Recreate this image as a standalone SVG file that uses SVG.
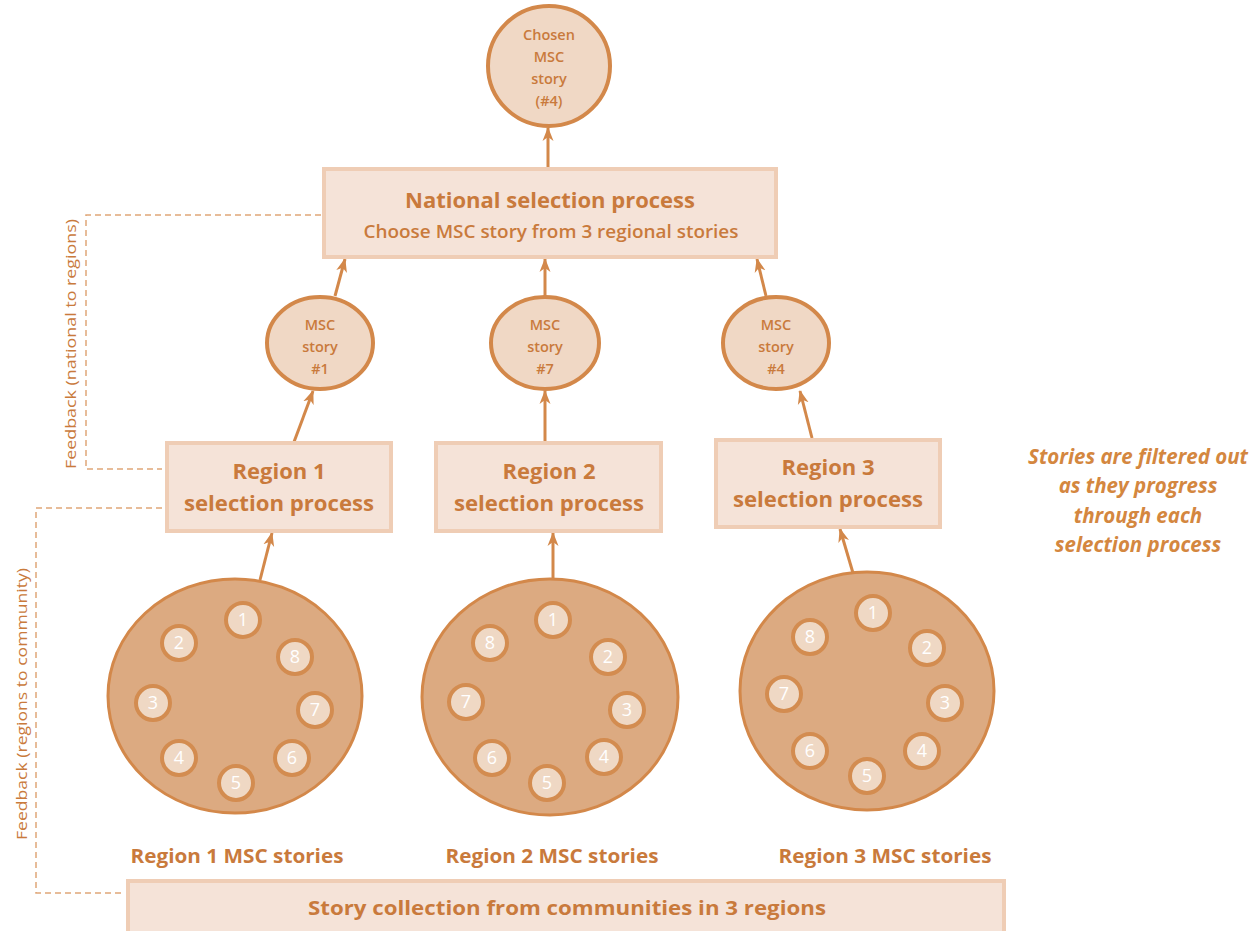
<svg xmlns="http://www.w3.org/2000/svg" width="1258" height="931" viewBox="0 0 1258 931">
<defs>
<marker id="ah" markerWidth="14" markerHeight="12" refX="13" refY="6" orient="auto" markerUnits="userSpaceOnUse">
<path d="M0,0.5 L14,6 L0,11.5 L4,6 Z" fill="#d3884a"/>
</marker>
<style>
text{font-family:"Open Sans","Liberation Sans",Arial,sans-serif;fill:#c97a3c;text-anchor:middle}
.box{fill:#f5e3d8;stroke:#efcdb5;stroke-width:4}
.msc{fill:#f0d8c5;stroke:#d3884a;stroke-width:4}
.big{fill:#dcaa81;stroke:#d3884a;stroke-width:3}
.sm{fill:#efd8c4;stroke:#d38c50;stroke-width:4}
.num{fill:#ffffff;font-size:18px}
.arr{stroke:#d3884a;stroke-width:3;fill:none;marker-end:url(#ah)}
.dash{stroke:#e0a678;stroke-width:1.5;fill:none;stroke-dasharray:6 4}
.mt{font-size:14.5px;font-weight:600}
.bt{font-weight:bold;font-size:22px}
.lbl{font-weight:bold;font-size:19px}
.side{font-size:14px}
.it{font-style:italic;font-weight:bold;font-size:20.5px;fill:#d4873f}
</style>
</defs>

<g id="connectors">
<line class="arr" x1="548" y1="168" x2="548" y2="128"/>
<line class="arr" x1="335" y1="296" x2="345" y2="259"/>
<line class="arr" x1="545" y1="296" x2="545" y2="259"/>
<line class="arr" x1="766" y1="296" x2="757" y2="259"/>
<line class="arr" x1="294" y1="442" x2="313" y2="391"/>
<line class="arr" x1="545" y1="442" x2="545" y2="391"/>
<line class="arr" x1="812" y1="438" x2="800" y2="391"/>
<line class="arr" x1="260" y1="580" x2="272" y2="533"/>
<line class="arr" x1="553" y1="578" x2="553" y2="533"/>
<line class="arr" x1="853" y1="573" x2="840" y2="529"/>
<path class="dash" d="M321,215 H86 V469 H162"/>
<path class="dash" d="M162,508 H36 V893 H125"/>
</g>

<g id="chosen">
<ellipse class="msc" cx="549" cy="66" rx="61" ry="60"/>
<text class="mt" x="549" y="40">Chosen</text>
<text class="mt" x="549" y="62">MSC</text>
<text class="mt" x="549" y="84">story</text>
<text class="mt" x="549" y="106">(#4)</text>
</g>

<g id="national">
<rect class="box" x="324" y="169" width="452" height="88"/>
<text class="bt" x="550" y="208" textLength="290" lengthAdjust="spacingAndGlyphs">National selection process</text>
<text x="551" y="238" style="font-size:18px;font-weight:600" textLength="375" lengthAdjust="spacingAndGlyphs">Choose MSC story from 3 regional stories</text>
</g>

<g id="msc1">
<ellipse class="msc" cx="320" cy="343" rx="53" ry="46"/>
<text class="mt" x="320" y="330">MSC</text>
<text class="mt" x="320" y="352">story</text>
<text class="mt" x="320" y="374">#1</text>
</g>
<g id="msc7">
<ellipse class="msc" cx="545" cy="343" rx="54" ry="46"/>
<text class="mt" x="545" y="330">MSC</text>
<text class="mt" x="545" y="352">story</text>
<text class="mt" x="545" y="374">#7</text>
</g>
<g id="msc4">
<ellipse class="msc" cx="776" cy="343" rx="53" ry="46"/>
<text class="mt" x="776" y="330">MSC</text>
<text class="mt" x="776" y="352">story</text>
<text class="mt" x="776" y="374">#4</text>
</g>

<g id="region1">
<rect class="box" x="167" y="443" width="224" height="88"/>
<text class="bt" x="279" y="479">Region 1</text>
<text class="bt" x="279" y="511" textLength="190" lengthAdjust="spacingAndGlyphs">selection process</text>
</g>
<g id="region2">
<rect class="box" x="436" y="443" width="225" height="88"/>
<text class="bt" x="549" y="479">Region 2</text>
<text class="bt" x="549" y="511" textLength="190" lengthAdjust="spacingAndGlyphs">selection process</text>
</g>
<g id="region3">
<rect class="box" x="716" y="440" width="224" height="87"/>
<text class="bt" x="828" y="475">Region 3</text>
<text class="bt" x="828" y="507" textLength="190" lengthAdjust="spacingAndGlyphs">selection process</text>
</g>

<g id="stories1">
<ellipse class="big" cx="235" cy="696" rx="127" ry="117"/>
<circle class="sm" cx="243" cy="620" r="17"/><text class="num" x="243" y="626">1</text>
<circle class="sm" cx="179" cy="643" r="17"/><text class="num" x="179" y="649">2</text>
<circle class="sm" cx="153" cy="703" r="17"/><text class="num" x="153" y="709">3</text>
<circle class="sm" cx="179" cy="758" r="17"/><text class="num" x="179" y="764">4</text>
<circle class="sm" cx="236" cy="783" r="17"/><text class="num" x="236" y="789">5</text>
<circle class="sm" cx="292" cy="758" r="17"/><text class="num" x="292" y="764">6</text>
<circle class="sm" cx="315" cy="710" r="17"/><text class="num" x="315" y="716">7</text>
<circle class="sm" cx="295" cy="657" r="17"/><text class="num" x="295" y="663">8</text>
<text class="lbl" x="237" y="863" textLength="213" lengthAdjust="spacingAndGlyphs">Region 1 MSC stories</text>
</g>

<g id="stories2">
<ellipse class="big" cx="550" cy="697" rx="128" ry="118"/>
<circle class="sm" cx="553" cy="620" r="17"/><text class="num" x="553" y="626">1</text>
<circle class="sm" cx="608" cy="657" r="17"/><text class="num" x="608" y="663">2</text>
<circle class="sm" cx="627" cy="710" r="17"/><text class="num" x="627" y="716">3</text>
<circle class="sm" cx="604" cy="757" r="17"/><text class="num" x="604" y="763">4</text>
<circle class="sm" cx="547" cy="783" r="17"/><text class="num" x="547" y="789">5</text>
<circle class="sm" cx="492" cy="758" r="17"/><text class="num" x="492" y="764">6</text>
<circle class="sm" cx="466" cy="702" r="17"/><text class="num" x="466" y="708">7</text>
<circle class="sm" cx="490" cy="643" r="17"/><text class="num" x="490" y="649">8</text>
<text class="lbl" x="552" y="863" textLength="213" lengthAdjust="spacingAndGlyphs">Region 2 MSC stories</text>
</g>

<g id="stories3">
<ellipse class="big" cx="867" cy="691" rx="127" ry="119"/>
<circle class="sm" cx="873" cy="613" r="17"/><text class="num" x="873" y="619">1</text>
<circle class="sm" cx="927" cy="648" r="17"/><text class="num" x="927" y="654">2</text>
<circle class="sm" cx="945" cy="703" r="17"/><text class="num" x="945" y="709">3</text>
<circle class="sm" cx="922" cy="751" r="17"/><text class="num" x="922" y="757">4</text>
<circle class="sm" cx="867" cy="776" r="17"/><text class="num" x="867" y="782">5</text>
<circle class="sm" cx="810" cy="751" r="17"/><text class="num" x="810" y="757">6</text>
<circle class="sm" cx="784" cy="694" r="17"/><text class="num" x="784" y="700">7</text>
<circle class="sm" cx="810" cy="637" r="17"/><text class="num" x="810" y="643">8</text>
<text class="lbl" x="885" y="863" textLength="213" lengthAdjust="spacingAndGlyphs">Region 3 MSC stories</text>
</g>

<g id="collection">
<rect class="box" x="128" y="881" width="876" height="56"/>
<text class="lbl" x="567" y="915" style="font-size:20px" textLength="518" lengthAdjust="spacingAndGlyphs">Story collection from communities in 3 regions</text>
</g>

<g id="feedback-labels">
<text class="side" transform="translate(76,344) rotate(-90)" textLength="250" lengthAdjust="spacingAndGlyphs">Feedback (national to regions)</text>
<text class="side" transform="translate(27,704) rotate(-90)" textLength="272" lengthAdjust="spacingAndGlyphs">Feedback (regions to community)</text>
</g>

<g id="note">
<text class="it" x="1138" y="464">Stories are filtered out</text>
<text class="it" x="1138" y="493">as they progress</text>
<text class="it" x="1138" y="523">through each</text>
<text class="it" x="1138" y="552">selection process</text>
</g>
</svg>
